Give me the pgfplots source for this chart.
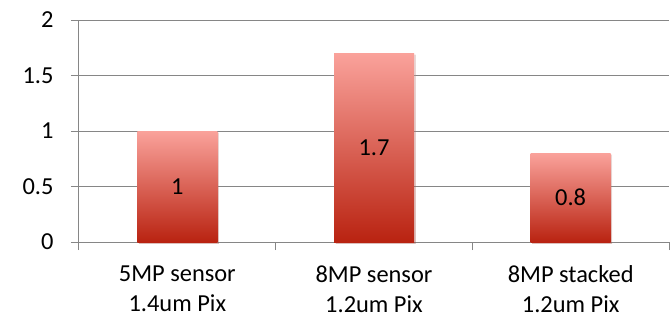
\documentclass[border=0pt]{standalone}
\usepackage{fontspec}
\setmainfont{Carlito}
\usepackage{pgfplots}
\usetikzlibrary{shadows}
\pgfplotsset{compat=1.18}
\definecolor{gridc}{RGB}{134,134,134}
\definecolor{bartop}{RGB}{250,162,155}
\definecolor{barmid}{RGB}{222,120,110}
\definecolor{barbot}{RGB}{185,35,17}
\begin{document}
\begin{tikzpicture}
\begin{axis}[
  scale only axis, width=590bp, height=222bp,
  xmin=-0.5, xmax=2.5, ymin=0, ymax=2,
  ytick={0,0.5,1,1.5,2},
  yticklabels={0,0.5,1,1.5,2},
  ymajorgrids, grid style={gridc, line width=1bp},
  axis lines*=left,
  axis line style={gridc, line width=1bp},
  tick style={gridc, line width=1bp},
  tick align=outside, major tick length=8bp,
  xtick={-0.5,0.5,1.5,2.5},
  x tick label as interval,
  xticklabels={{5MP sensor\\1.4um Pix},{8MP sensor\\1.2um Pix},{8MP stacked\\1.2um Pix}},
  x tick label style={align=center, font=\fontsize{24.5}{30}\selectfont, text=black, yshift=-12bp},
  y tick label style={font=\fontsize{24.5}{29}\selectfont, text=black, anchor=east, xshift=-14bp},
  clip=false,
]
\addplot[ybar, bar width=80bp, bar shift=0pt, draw=none, drop shadow={shadow xshift=1.5bp, shadow yshift=-1.5bp, opacity=0.2}, top color=bartop, middle color=barmid, bottom color=barbot] coordinates {(0,1)};
\addplot[ybar, bar width=80bp, bar shift=0pt, draw=none, drop shadow={shadow xshift=1.5bp, shadow yshift=-1.5bp, opacity=0.2}, top color=bartop, middle color=barmid, bottom color=barbot] coordinates {(1,1.7)};
\addplot[ybar, bar width=80bp, bar shift=0pt, draw=none, drop shadow={shadow xshift=1.5bp, shadow yshift=-1.5bp, opacity=0.2}, top color=bartop, middle color=barmid, bottom color=barbot] coordinates {(2,0.8)};
\addplot[draw=none, mark=none, nodes near coords, point meta=explicit symbolic,
  every node near coord/.append style={anchor=center, font=\fontsize{24.5}{29}\selectfont, text=black}]
  coordinates {(0,0.5) [1] (1,0.85) [1.7] (2,0.4) [0.8]};
\end{axis}
\pgfresetboundingbox
\path (-79bp,-79bp) rectangle (591bp,242bp);
\end{tikzpicture}
\end{document}
